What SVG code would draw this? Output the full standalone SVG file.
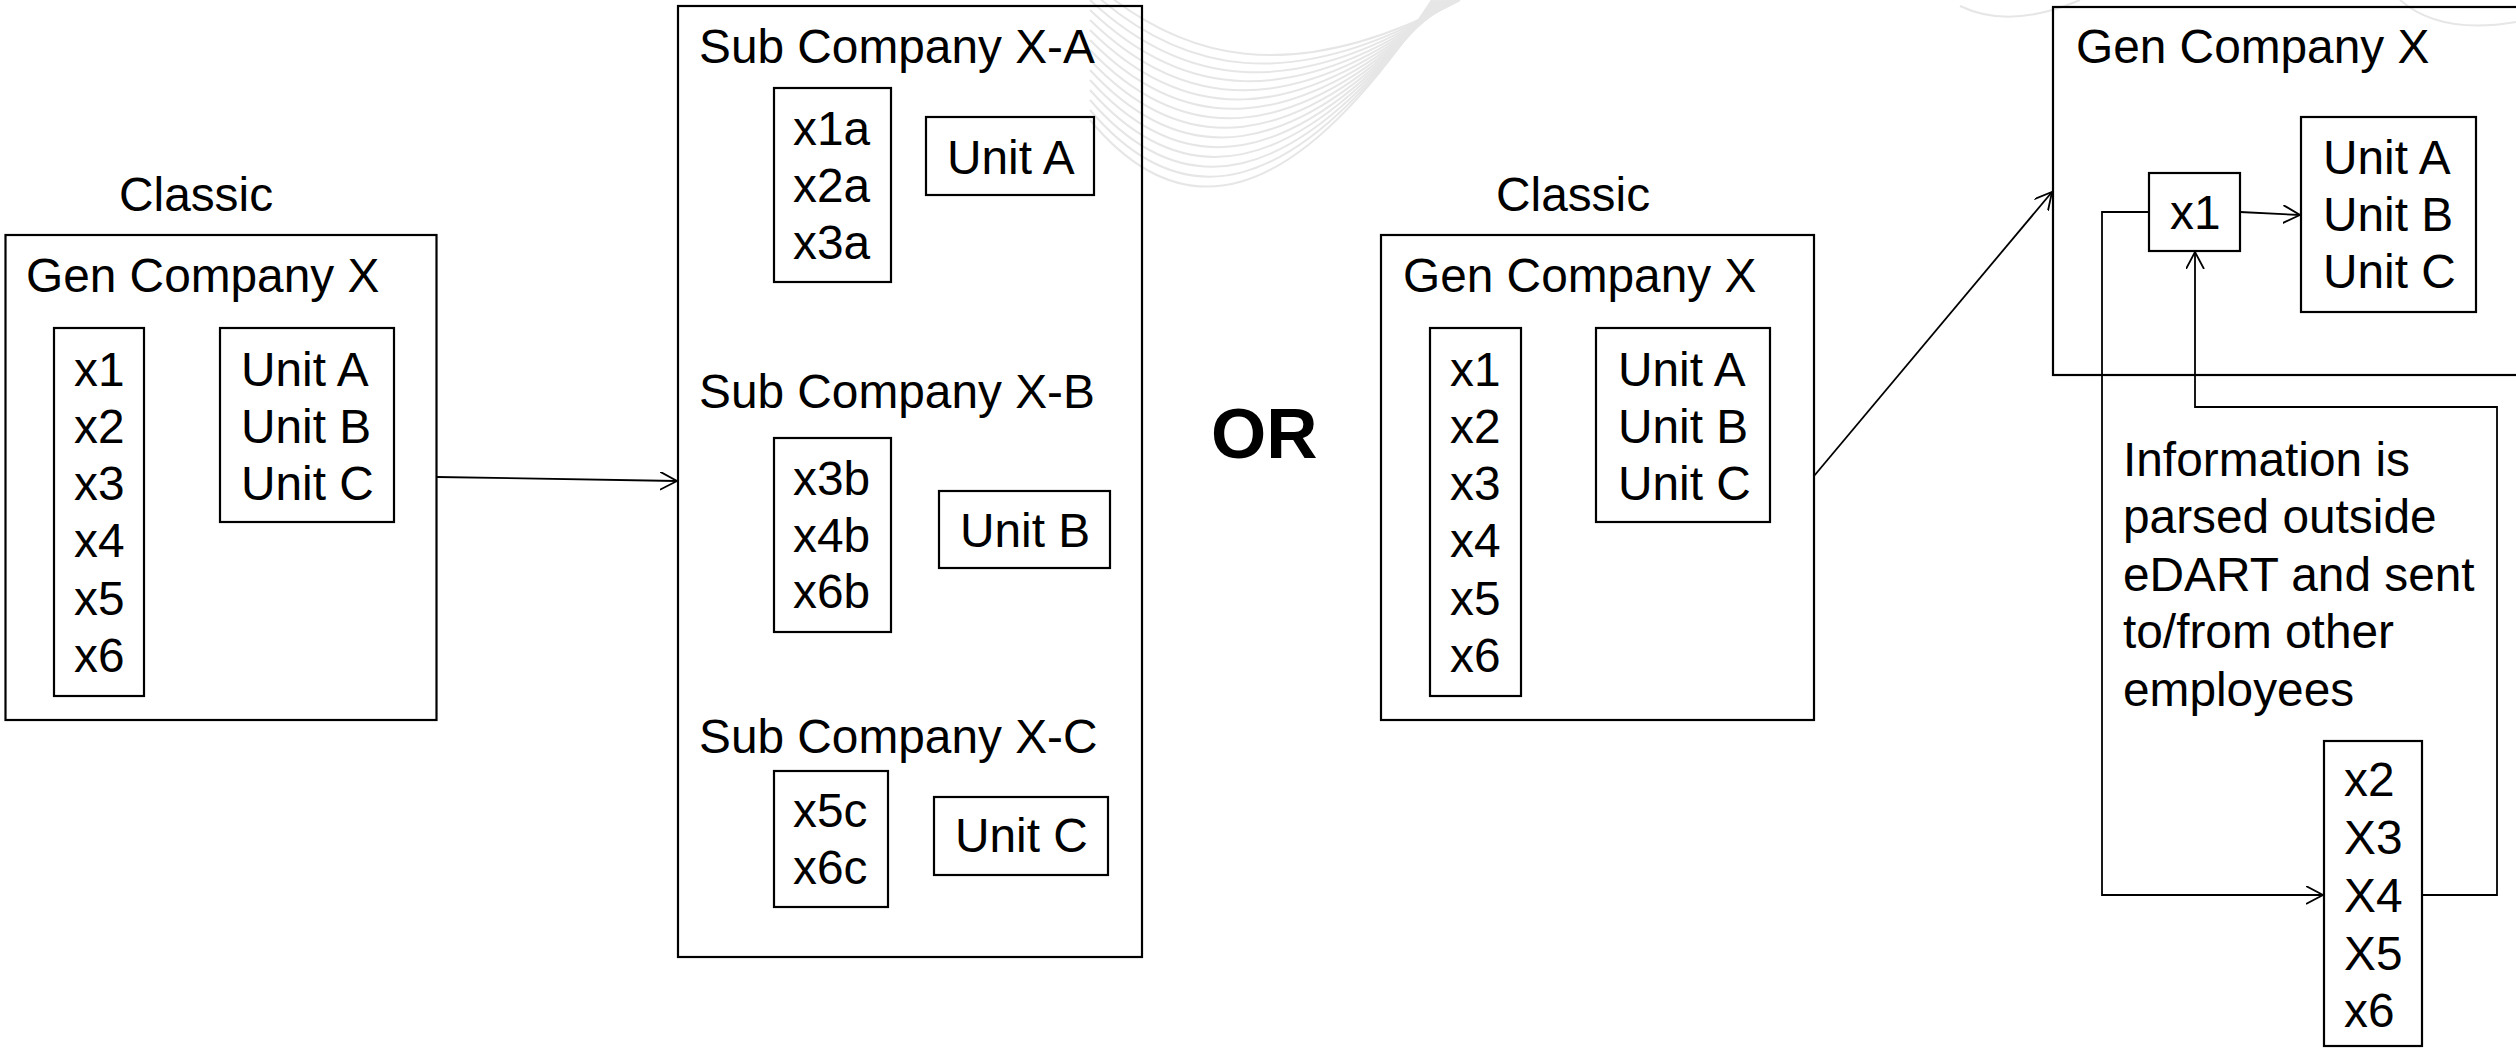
<svg xmlns="http://www.w3.org/2000/svg" width="2516" height="1052" viewBox="0 0 2516 1052">
<defs>
<style>
.box{fill:none;stroke:#000;stroke-width:2.2}
.t{font-family:"Liberation Sans",Arial,sans-serif;font-size:47.8px;fill:#000}
.or{font-family:"Liberation Sans",Arial,sans-serif;font-size:71px;font-weight:bold;fill:#000}
.c{fill:none;stroke:#000;stroke-width:1.8}
.wm{fill:none;stroke:#e6e6e6;stroke-width:2}
</style>
<marker id="arr" markerUnits="userSpaceOnUse" markerWidth="22" markerHeight="22" refX="17" refY="9" orient="auto">
<path d="M0,0 L17,9 L0,18" fill="none" stroke="#000" stroke-width="1.8"/>
</marker>
</defs>
<rect width="2516" height="1052" fill="#fff"/>
<g id="watermark">
<path class="wm" d="M1090,-20 C1180,60 1290,90 1460,0"/>
<path class="wm" d="M1090,-10 C1180,72 1290,99 1458,0"/>
<path class="wm" d="M1090,0 C1180,84 1290,108 1456,0"/>
<path class="wm" d="M1090,10 C1180,96 1290,117 1454,0"/>
<path class="wm" d="M1090,20 C1180,108 1290,126 1452,0"/>
<path class="wm" d="M1090,30 C1180,120 1290,135 1450,0"/>
<path class="wm" d="M1090,40 C1180,132 1290,144 1448,0"/>
<path class="wm" d="M1090,50 C1180,144 1290,153 1446,0"/>
<path class="wm" d="M1090,60 C1180,156 1290,162 1444,0"/>
<path class="wm" d="M1090,70 C1180,168 1290,171 1442,0"/>
<path class="wm" d="M1090,80 C1180,180 1290,180 1440,0"/>
<path class="wm" d="M1090,90 C1180,192 1290,189 1438,0"/>
<path class="wm" d="M1090,100 C1180,204 1290,198 1436,0"/>
<path class="wm" d="M1090,110 C1180,216 1290,207 1434,0"/>
<path class="wm" d="M1090,120 C1180,228 1290,216 1432,0"/>
<path class="wm" d="M1960,6 Q2010,30 2080,0"/>
<path class="wm" d="M2400,0 Q2440,35 2516,22"/>
</g>
<g id="classic-left">
<text class="t" x="119" y="211">Classic</text>
<rect class="box" x="5.5" y="235" width="431" height="485"/>
<text class="t" x="26" y="292">Gen Company X</text>
</g>
<g id="left-x-list">
<rect class="box" x="54" y="328" width="90" height="368"/>
<text class="t" x="74" y="386">x1</text>
<text class="t" x="74" y="443">x2</text>
<text class="t" x="74" y="500">x3</text>
<text class="t" x="74" y="557">x4</text>
<text class="t" x="74" y="615">x5</text>
<text class="t" x="74" y="672">x6</text>
</g>
<g id="left-units">
<rect class="box" x="220" y="328" width="174" height="194"/>
<text class="t" x="241" y="386">Unit A</text>
<text class="t" x="241" y="443">Unit B</text>
<text class="t" x="241" y="500">Unit C</text>
</g>
<g id="sub-companies">
<rect class="box" x="678" y="6" width="464" height="951"/>
</g>
<g id="sub-a">
<text class="t" x="699" y="63">Sub Company X-A</text>
<rect class="box" x="774" y="88" width="117" height="194"/>
<text class="t" x="793" y="145">x1a</text>
<text class="t" x="793" y="202">x2a</text>
<text class="t" x="793" y="259">x3a</text>
<rect class="box" x="926" y="117" width="168" height="78"/>
<text class="t" x="947" y="174">Unit A</text>
</g>
<g id="sub-b">
<text class="t" x="699" y="408">Sub Company X-B</text>
<rect class="box" x="774" y="438" width="117" height="194"/>
<text class="t" x="793" y="495">x3b</text>
<text class="t" x="793" y="552">x4b</text>
<text class="t" x="793" y="608">x6b</text>
<rect class="box" x="939" y="491" width="171" height="77"/>
<text class="t" x="960" y="547">Unit B</text>
</g>
<g id="sub-c">
<text class="t" x="699" y="753">Sub Company X-C</text>
<rect class="box" x="774" y="771" width="114" height="136"/>
<text class="t" x="793" y="827">x5c</text>
<text class="t" x="793" y="884">x6c</text>
<rect class="box" x="934" y="797" width="174" height="78"/>
<text class="t" x="955" y="852">Unit C</text>
</g>
<g id="or-label">
<text class="or" x="1211" y="458">OR</text>
</g>
<g id="classic-mid">
<text class="t" x="1496" y="211">Classic</text>
<rect class="box" x="1381" y="235" width="433" height="485"/>
<text class="t" x="1403" y="292">Gen Company X</text>
</g>
<g id="mid-x-list">
<rect class="box" x="1430" y="328" width="91" height="368"/>
<text class="t" x="1450" y="386">x1</text>
<text class="t" x="1450" y="443">x2</text>
<text class="t" x="1450" y="500">x3</text>
<text class="t" x="1450" y="557">x4</text>
<text class="t" x="1450" y="615">x5</text>
<text class="t" x="1450" y="672">x6</text>
</g>
<g id="mid-units">
<rect class="box" x="1596" y="328" width="174" height="194"/>
<text class="t" x="1618" y="386">Unit A</text>
<text class="t" x="1618" y="443">Unit B</text>
<text class="t" x="1618" y="500">Unit C</text>
</g>
<g id="gen-right">
<rect class="box" x="2053" y="7" width="500" height="368"/>
<text class="t" x="2076" y="63">Gen Company X</text>
</g>
<g id="right-x1">
<rect class="box" x="2149" y="173" width="91" height="78"/>
<text class="t" x="2170" y="229">x1</text>
</g>
<g id="right-units">
<rect class="box" x="2301" y="117" width="175" height="195"/>
<text class="t" x="2323" y="174">Unit A</text>
<text class="t" x="2323" y="231">Unit B</text>
<text class="t" x="2323" y="288">Unit C</text>
</g>
<g id="info-note">
<text class="t" x="2123" y="476">Information is</text>
<text class="t" x="2123" y="533">parsed outside</text>
<text class="t" x="2123" y="591">eDART and sent</text>
<text class="t" x="2123" y="648">to/from other</text>
<text class="t" x="2123" y="706">employees</text>
</g>
<g id="right-x-list">
<rect class="box" x="2324" y="741" width="98" height="305"/>
<text class="t" x="2344" y="796">x2</text>
<text class="t" x="2344" y="854">X3</text>
<text class="t" x="2344" y="912">X4</text>
<text class="t" x="2344" y="970">X5</text>
<text class="t" x="2344" y="1027">x6</text>
</g>
<g id="connectors">
<path class="c" d="M437,477 L677,481" marker-end="url(#arr)"/>
<path class="c" d="M1814,476 L2052,192" marker-end="url(#arr)"/>
<path class="c" d="M2240,212 L2300,215" marker-end="url(#arr)"/>
<path class="c" d="M2149,212 H2102 V895 H2323" marker-end="url(#arr)"/>
<path class="c" d="M2422,895 H2497 V407 H2195 V252" marker-end="url(#arr)"/>
</g>
</svg>
